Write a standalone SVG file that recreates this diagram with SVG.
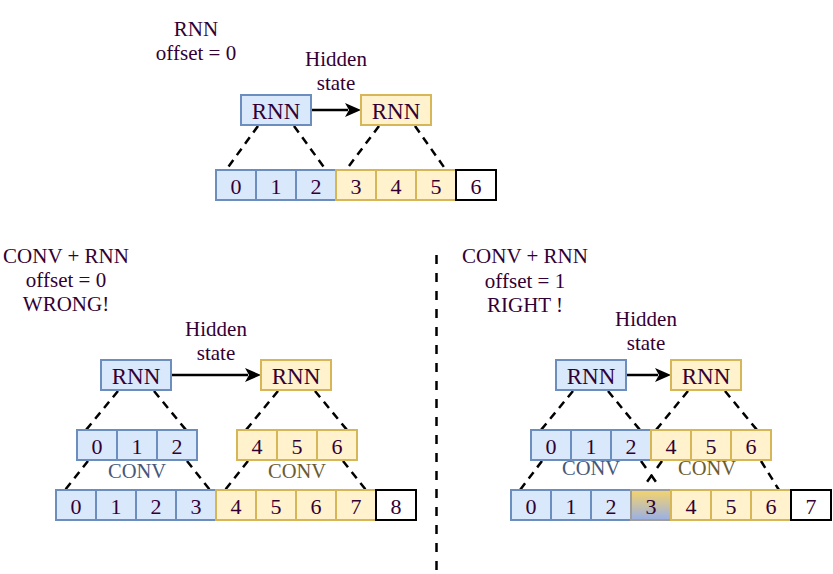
<svg xmlns="http://www.w3.org/2000/svg" width="833" height="574" viewBox="0 0 833 574">
<defs>
<style>
text{font-family:"Liberation Serif","Times New Roman",serif;fill:#330033;text-anchor:middle}
.lbl{font-size:21px}
.dig{font-size:22px}
.rt{font-size:23px}
.cv{font-size:20.5px}
.b{fill:#dae8fc;stroke:#6c8ebf;stroke-width:2}
.y{fill:#fff2cc;stroke:#d6b656;stroke-width:2}
.w{fill:#ffffff;stroke:#000000;stroke-width:2}
.g{fill:url(#grad);stroke:#9e9e9e;stroke-width:2}
.d{stroke:#000;stroke-width:2.5;stroke-dasharray:8 6;fill:none}
.dx{stroke:#000;stroke-width:2.5;stroke-dasharray:8.5 8.5;fill:none}
.ln{stroke:#000;stroke-width:2.5;fill:none}
.ah{fill:#000}
</style>
<linearGradient id="grad" x1="0" y1="0" x2="0" y2="1">
<stop offset="0" stop-color="#f5d46c"/>
<stop offset="0.5" stop-color="#c9c2a6"/>
<stop offset="1" stop-color="#98b0e8"/>
</linearGradient>
</defs>
<rect width="833" height="574" fill="#fff"/>

<g id="connectors">
<line class="ln" x1="311" y1="110" x2="348" y2="110"/>
<path class="ah" d="M345,103 L361,110 L345,117 L349,110 Z"/>
<line class="ln" x1="171" y1="375" x2="248" y2="375"/>
<path class="ah" d="M245,368 L261,375 L245,382 L249,375 Z"/>
<line class="ln" x1="626" y1="375" x2="658" y2="375"/>
<path class="ah" d="M655,368 L671,375 L655,382 L659,375 Z"/>

<line class="d" x1="258" y1="126" x2="226" y2="170"/>
<line class="d" x1="294" y1="126" x2="326" y2="170"/>
<line class="d" x1="379" y1="126" x2="346" y2="170"/>
<line class="d" x1="415" y1="126" x2="446" y2="170"/>

<line class="d" x1="118" y1="391" x2="86" y2="430"/>
<line class="d" x1="154" y1="391" x2="186" y2="430"/>
<line class="d" x1="278" y1="391" x2="246" y2="430"/>
<line class="d" x1="315" y1="391" x2="347" y2="430"/>
<line class="d" x1="88" y1="461" x2="65" y2="490"/>
<line class="d" x1="187" y1="461" x2="210" y2="490"/>
<line class="d" x1="248" y1="461" x2="225" y2="490"/>
<line class="d" x1="343" y1="461" x2="366" y2="490"/>

<line class="d" x1="573" y1="391" x2="541" y2="430"/>
<line class="d" x1="608" y1="391" x2="640" y2="430"/>
<line class="d" x1="688" y1="391" x2="656" y2="430"/>
<line class="d" x1="725" y1="391" x2="757" y2="430"/>
<line class="d" x1="542" y1="461" x2="520" y2="490"/>
<line class="dx" x1="641" y1="461" x2="657.5" y2="484"/>
<line class="dx" x1="662" y1="461" x2="645.5" y2="484"/>
<line class="d" x1="761" y1="461" x2="779" y2="490"/>

<line x1="436.5" y1="255" x2="436.5" y2="574" stroke="#000" stroke-width="2.5" stroke-dasharray="9 9"/>
</g>

<g id="labels">
<text class="lbl" x="196" y="36">RNN</text>
<text class="lbl" x="196" y="60">offset = 0</text>
<text class="lbl" x="336" y="66">Hidden</text>
<text class="lbl" x="336" y="90">state</text>
<text class="lbl" x="66" y="263">CONV + RNN</text>
<text class="lbl" x="66" y="287">offset = 0</text>
<text class="lbl" x="66" y="311">WRONG!</text>
<text class="lbl" x="216" y="336">Hidden</text>
<text class="lbl" x="216" y="360">state</text>
<text class="lbl" x="525" y="263">CONV + RNN</text>
<text class="lbl" x="525" y="288">offset = 1</text>
<text class="lbl" x="525" y="312">RIGHT !</text>
<text class="lbl" x="646" y="326">Hidden</text>
<text class="lbl" x="646" y="350">state</text>
<text class="cv" x="137" y="478" style="fill:#46577a">CONV</text>
<text class="cv" x="297" y="478" style="fill:#6b5b2e">CONV</text>
<text class="cv" x="591" y="475" style="fill:#46577a">CONV</text>
<text class="cv" x="707" y="475" style="fill:#6b5b2e">CONV</text>
</g>

<g id="top-rnn-1"><rect class="b" x="241" y="95" width="70" height="30"/><text class="rt" x="276" y="119">RNN</text></g>
<g id="top-rnn-2"><rect class="y" x="361" y="95" width="70" height="30"/><text class="rt" x="396" y="119">RNN</text></g>
<g id="top-cells">
<rect class="b" x="216" y="170" width="40" height="30"/><text class="dig" x="236" y="194">0</text>
<rect class="b" x="256" y="170" width="40" height="30"/><text class="dig" x="276" y="194">1</text>
<rect class="b" x="296" y="170" width="40" height="30"/><text class="dig" x="316" y="194">2</text>
<rect class="y" x="336" y="170" width="40" height="30"/><text class="dig" x="356" y="194">3</text>
<rect class="y" x="376" y="170" width="40" height="30"/><text class="dig" x="396" y="194">4</text>
<rect class="y" x="416" y="170" width="40" height="30"/><text class="dig" x="436" y="194">5</text>
<rect class="w" x="456" y="170" width="40" height="30"/><text class="dig" x="476" y="194">6</text>
</g>

<g id="left-rnn-1"><rect class="b" x="101" y="360" width="70" height="30"/><text class="rt" x="136" y="384">RNN</text></g>
<g id="left-rnn-2"><rect class="y" x="261" y="360" width="70" height="30"/><text class="rt" x="296" y="384">RNN</text></g>
<g id="left-conv-1">
<rect class="b" x="77" y="430" width="40" height="30"/><text class="dig" x="97" y="454">0</text>
<rect class="b" x="117" y="430" width="40" height="30"/><text class="dig" x="137" y="454">1</text>
<rect class="b" x="157" y="430" width="40" height="30"/><text class="dig" x="177" y="454">2</text>
</g>
<g id="left-conv-2">
<rect class="y" x="237" y="430" width="40" height="30"/><text class="dig" x="257" y="454">4</text>
<rect class="y" x="277" y="430" width="40" height="30"/><text class="dig" x="297" y="454">5</text>
<rect class="y" x="317" y="430" width="40" height="30"/><text class="dig" x="337" y="454">6</text>
</g>
<g id="left-cells">
<rect class="b" x="56" y="490" width="40" height="30"/><text class="dig" x="76" y="514">0</text>
<rect class="b" x="96" y="490" width="40" height="30"/><text class="dig" x="116" y="514">1</text>
<rect class="b" x="136" y="490" width="40" height="30"/><text class="dig" x="156" y="514">2</text>
<rect class="b" x="176" y="490" width="40" height="30"/><text class="dig" x="196" y="514">3</text>
<rect class="y" x="216" y="490" width="40" height="30"/><text class="dig" x="236" y="514">4</text>
<rect class="y" x="256" y="490" width="40" height="30"/><text class="dig" x="276" y="514">5</text>
<rect class="y" x="296" y="490" width="40" height="30"/><text class="dig" x="316" y="514">6</text>
<rect class="y" x="336" y="490" width="40" height="30"/><text class="dig" x="356" y="514">7</text>
<rect class="w" x="376" y="490" width="40" height="30"/><text class="dig" x="396" y="514">8</text>
</g>

<g id="right-rnn-1"><rect class="b" x="556" y="360" width="70" height="30"/><text class="rt" x="591" y="384">RNN</text></g>
<g id="right-rnn-2"><rect class="y" x="671" y="360" width="70" height="30"/><text class="rt" x="706" y="384">RNN</text></g>
<g id="right-conv-1">
<rect class="b" x="531" y="430" width="40" height="30"/><text class="dig" x="551" y="454">0</text>
<rect class="b" x="571" y="430" width="40" height="30"/><text class="dig" x="591" y="454">1</text>
<rect class="b" x="611" y="430" width="40" height="30"/><text class="dig" x="631" y="454">2</text>
</g>
<g id="right-conv-2">
<rect class="y" x="651" y="430" width="40" height="30"/><text class="dig" x="671" y="454">4</text>
<rect class="y" x="691" y="430" width="40" height="30"/><text class="dig" x="711" y="454">5</text>
<rect class="y" x="731" y="430" width="40" height="30"/><text class="dig" x="751" y="454">6</text>
</g>
<g id="right-cells">
<rect class="b" x="511" y="490" width="40" height="30"/><text class="dig" x="531" y="514">0</text>
<rect class="b" x="551" y="490" width="40" height="30"/><text class="dig" x="571" y="514">1</text>
<rect class="b" x="591" y="490" width="40" height="30"/><text class="dig" x="611" y="514">2</text>
<rect class="g" x="631" y="490" width="40" height="30"/><text class="dig" x="651" y="514">3</text>
<rect class="y" x="671" y="490" width="40" height="30"/><text class="dig" x="691" y="514">4</text>
<rect class="y" x="711" y="490" width="40" height="30"/><text class="dig" x="731" y="514">5</text>
<rect class="y" x="751" y="490" width="40" height="30"/><text class="dig" x="771" y="514">6</text>
<rect class="w" x="791" y="490" width="40" height="30"/><text class="dig" x="811" y="514">7</text>
</g>
</svg>
